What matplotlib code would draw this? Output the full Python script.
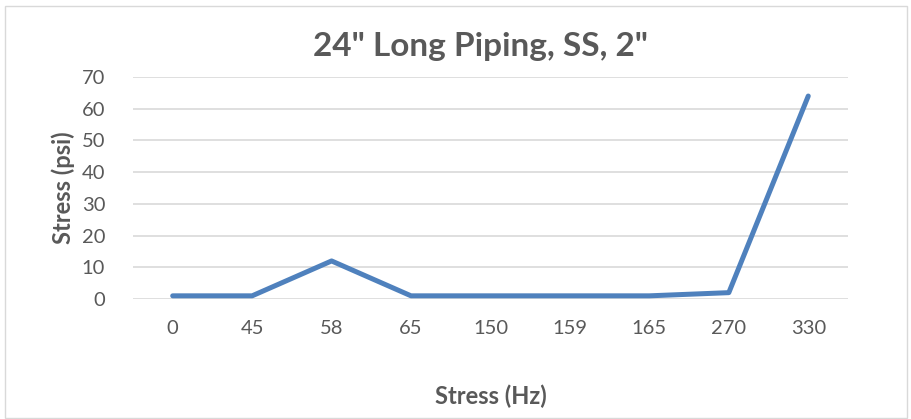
import matplotlib.pyplot as plt

# data
freq_labels = ["0", "45", "58", "65", "150", "159", "165", "270", "330"]
stress_psi = [1, 1, 12, 1, 1, 1, 1, 2, 64]

grey = "#595959"
plt.rcParams['font.family'] = ['Lato', 'DejaVu Sans']

fig = plt.figure(figsize=(9.12, 4.19), dpi=100)
ax = fig.add_axes([0.1458, 0.2864, 0.784, 0.5298])

x = list(range(len(freq_labels)))
ax.plot(x, stress_psi, color="#4F81BD", linewidth=3.6,
        solid_capstyle="round", solid_joinstyle="round", zorder=3)

ax.set_xlim(-0.5, len(freq_labels) - 0.5)
ax.set_ylim(0, 70)
ax.set_yticks(range(0, 71, 10))
ax.set_xticks(x)
ax.set_xticklabels(freq_labels)
ax.grid(axis="y", color="#D9D9D9", linewidth=1.2)
ax.set_axisbelow(True)
for s in ax.spines.values():
    s.set_visible(False)
ax.tick_params(axis="both", length=0, labelsize=14.5, labelcolor=grey)
ax.tick_params(axis="x", pad=15)
ax.tick_params(axis="y", pad=20)

ax.set_ylabel("Stress (psi)", fontsize=17, fontweight="bold", color=grey, labelpad=5)
ax.set_xlabel("Stress (Hz)", fontsize=17, fontweight="bold", color=grey, labelpad=34)
fig.text(0.527, 0.888, '24" Long Piping, SS, 2"', ha="center", va="center",
         fontsize=24, fontweight="bold", color=grey)

# chart border
fig.patches.append(plt.Rectangle((0.005, 0.003), 0.99, 0.982, transform=fig.transFigure,
                                 fill=False, edgecolor="#D9D9D9", linewidth=1))

fig.savefig("out.png", dpi=100)
